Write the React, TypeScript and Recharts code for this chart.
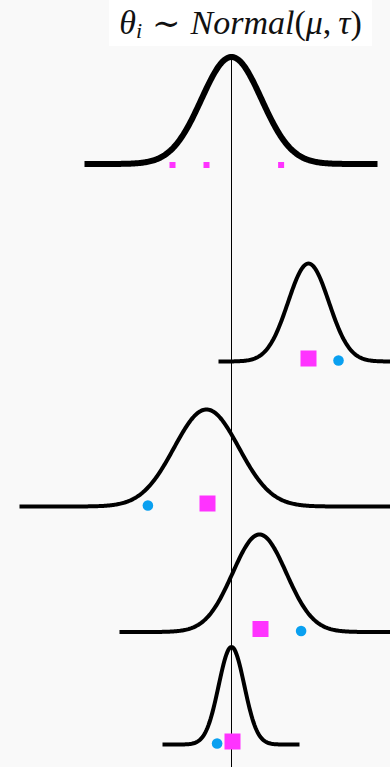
import { ComposedChart, Line, Scatter, XAxis, YAxis, ReferenceLine } from 'recharts'

// Normal curves, one per row: the population curve first, then the groups
const rowNames = ['population', 'g1', 'g2', 'g3', 'g4']
const curveMu = [0, 19.25, -6.25, 7, 0]
const curveSigma = [7.5, 5.1, 8.1, 6.7, 3.2]
const curveFrom = [-36.75, -3.25, -53, -28, -17.25]
const curveTo = [36.5, 40, 40, 40, 17]

// observed estimates (blue) and posterior means (magenta) for the group rows
const observed = [26.75, -20.9, 17.4, -3.6]
const posteriorMean = [19.25, -6, 7.25, 0.25]
// draws shown under the population curve
const popDraws = [-14.75, -6.25, 12.4]

// layout of the rows on the track axis (0 = top of the chart)
const W = 390
const H = 767
const X_DOMAIN: [number, number] = [-57.875, 39.625]
const rowBase = [164, 361.5, 506.5, 632, 744.5]
const rowHeight = [107, 98, 97, 97.5, 97.5]
const rowStroke = [6, 4, 4, 4, 4]

const MAGENTA = '#ff33ff'
const BLUE = '#0aa0f0'

const pdf = (x: number, mu: number, s: number) => Math.exp(-0.5 * ((x - mu) / s) ** 2)

const STEP = 0.25
const curves = rowNames.map((name, i) => {
  const n = Math.round((curveTo[i] - curveFrom[i]) / STEP)
  const pts = Array.from({ length: n + 1 }, (_, k) => {
    const x = curveFrom[i] + k * STEP
    return { x, y: rowBase[i] - rowHeight[i] * pdf(x, curveMu[i], curveSigma[i]) }
  })
  return { name, pts }
})

const obsData = observed.map((x, i) => ({ x, y: rowBase[i + 1] - 1 }))
const meanData = posteriorMean.map((x, i) => ({ x, y: rowBase[i + 1] - 3 }))
const drawData = popDraws.map((x) => ({ x, y: rowBase[0] + 1 }))

const squareShape = (size: number) => (props: any) => (
  <rect x={props.cx - size / 2} y={props.cy - size / 2} width={size} height={size} fill={MAGENTA} />
)
const dotShape = (props: any) => <circle cx={props.cx} cy={props.cy} r={5.3} fill={BLUE} />

export default function App() {
  return (
    <div style={{ position: 'absolute', left: 0, top: 0, width: W, height: H, background: '#f9f9f9', overflow: 'hidden' }}>
      <ComposedChart width={W} height={H} margin={{ top: 0, right: 0, bottom: 0, left: 0 }}>
        <XAxis type="number" dataKey="x" domain={X_DOMAIN} allowDataOverflow hide />
        <YAxis type="number" dataKey="y" domain={[0, H]} reversed allowDataOverflow hide />
        <Scatter data={drawData} shape={squareShape(6)} isAnimationActive={false} />
        <Scatter data={meanData} shape={squareShape(16)} isAnimationActive={false} />
        <Scatter data={obsData} shape={dotShape} isAnimationActive={false} />
        {curves.map((c, i) => (
          <Line
            key={c.name}
            data={c.pts}
            dataKey="y"
            type="linear"
            stroke="#000"
            strokeWidth={rowStroke[i]}
            dot={false}
            activeDot={false}
            isAnimationActive={false}
          />
        ))}
        <ReferenceLine
          segment={[
            { x: curveMu[0], y: rowBase[0] - rowHeight[0] - 2 },
            { x: curveMu[0], y: H },
          ]}
          stroke="#000"
          strokeWidth={1}
          ifOverflow="visible"
        />
      </ComposedChart>
      <div
        style={{
          position: 'absolute',
          left: 109,
          top: 0,
          width: 263,
          height: 46,
          background: '#fff',
          display: 'flex',
          alignItems: 'center',
          justifyContent: 'center',
          fontFamily: '"Liberation Serif", "DejaVu Serif", serif',
          fontSize: 34,
          color: '#111',
          whiteSpace: 'nowrap',
        }}
      >
        <i>θ</i>
        <i style={{ fontSize: 22, position: 'relative', top: 8 }}>i</i>
        <span style={{ margin: '0 10px' }}>∼</span>
        <i>Normal</i>
        <span>(</span>
        <i>μ</i>
        <span style={{ marginRight: 7 }}>,</span>
        <i>τ</i>
        <span>)</span>
      </div>
    </div>
  )
}
